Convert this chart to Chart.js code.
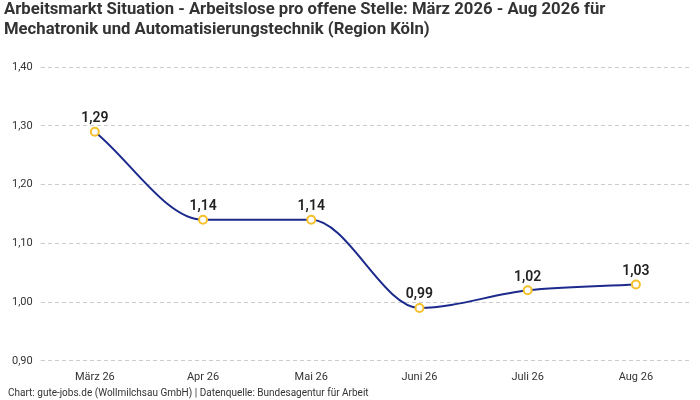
<!DOCTYPE html>
<html><head><meta charset="utf-8">
<script src="https://cdn.jsdelivr.net/npm/chart.js@4"></script>
<style>html,body{margin:0;padding:0;background:#fff}#w{width:700px;height:400px}</style>
</head><body><div id="w"><canvas id="c"></canvas></div>
<script>
const categories = ["März 26","Apr 26","Mai 26","Juni 26","Juli 26","Aug 26"];
const values = [1.29,1.14,1.14,0.99,1.02,1.03];
const fmt = v => v.toFixed(2).replace('.', ',');
const labelPlugin = {
  id:'lbl',
  afterDatasetsDraw(chart){
    const ctx = chart.ctx, meta = chart.getDatasetMeta(0);
    ctx.save();
    ctx.font = '600 14px Roboto'; ctx.fillStyle = '#222'; ctx.textAlign='center'; ctx.textBaseline='bottom';
    meta.data.forEach((p,i)=>ctx.fillText(fmt(values[i]), p.x, p.y-6));
    ctx.font = '10px Roboto'; ctx.fillStyle='#333'; ctx.textAlign='left'; ctx.textBaseline='middle';
    ctx.fillText('Chart: gute-jobs.de (Wollmilchsau GmbH) | Datenquelle: Bundesagentur für Arbeit', 8, 393);
    ctx.restore();
  }
};
new Chart(document.getElementById('c'), {
  type:'line',
  data:{labels:categories, datasets:[{data:values, borderColor:'#1b2a8c', borderWidth:2,
    cubicInterpolationMode:'monotone', pointRadius:4, pointBackgroundColor:'#fff',
    pointBorderColor:'#f5c02a', pointBorderWidth:2}]},
  options:{responsive:true, maintainAspectRatio:false, animation:false,
    layout:{padding:{left:4,right:10,bottom:14}},
    plugins:{legend:{display:false}, tooltip:{enabled:false},
      title:{display:true, align:'start', text:['Arbeitsmarkt Situation - Arbeitslose pro offene Stelle: März 2026 - Aug 2026 für','Mechatronik und Automatisierungstechnik (Region Köln)'],
        color:'#333', font:{family:'Roboto', size:16.7, weight:'bold', lineHeight:1.2}, padding:{top:0,bottom:27}}},
    scales:{
      x:{offset:true, grid:{display:false}, border:{display:false}, ticks:{padding:2, color:'#333', font:{family:'Roboto',size:11}}},
      y:{min:0.9, max:1.4, grid:{color:'#ccc', tickLength:0}, border:{display:false, dash:[4,3]}, ticks:{stepSize:0.1, padding:8, color:'#333', font:{family:'Roboto',size:11}, callback:v=>fmt(v)}}
    }},
  plugins:[labelPlugin]
});
</script></body></html>
